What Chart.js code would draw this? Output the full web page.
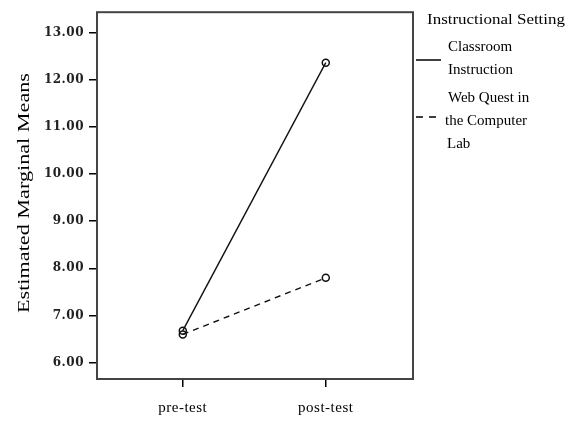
<!DOCTYPE html>
<html>
<head>
<meta charset="utf-8">
<script src="https://cdn.jsdelivr.net/npm/chart.js@4.4.1/dist/chart.umd.min.js"></script>
<style>
html,body{margin:0;padding:0;background:#fff;}
#wrap{position:relative;width:569px;height:421px;}
</style>
</head>
<body>
<div id="wrap"><canvas id="c" width="569" height="421"></canvas></div>
<script>
const categories = ["pre-test", "post-test"];
const classroom = [6.68, 12.36];
const webQuest = [6.60, 7.80];
const seriesLabels = [["Classroom", "Instruction"], ["Web Quest in", "the Computer", "Lab"]];
const legendTitle = "Instructional Setting";
const yTicks = [6, 7, 8, 9, 10, 11, 12, 13];
const yTitle = "Estimated Marginal Means";

const SERIF = "'Liberation Serif', 'Times New Roman', serif";

const framePlugin = {
  id: 'frame',
  beforeDraw(chart) {
    chart.ctx.letterSpacing = '0.5px';
  },
  afterDraw(chart) {
    const ctx = chart.ctx, a = chart.chartArea;
    ctx.save();
    ctx.letterSpacing = '0px';
    ctx.strokeStyle = '#444';
    ctx.lineWidth = 2;
    ctx.strokeRect(a.left, a.top, a.right - a.left, a.bottom - a.top);
    ctx.fillStyle = '#000';
    // y axis title, stretched along its length
    ctx.save();
    ctx.font = "17px " + SERIF;
    ctx.textAlign = 'center';
    ctx.textBaseline = 'middle';
    const w = ctx.measureText(yTitle).width;
    ctx.translate(25, 193);
    ctx.rotate(-Math.PI / 2);
    ctx.scale(240 / w, 1);
    ctx.fillText(yTitle, 0, 0);
    ctx.restore();
    // legend
    ctx.textBaseline = 'middle';
    ctx.textAlign = 'left';
    ctx.font = "15px " + SERIF;
    ctx.save();
    const tw = ctx.measureText(legendTitle).width;
    ctx.translate(427, 20);
    ctx.scale(138 / tw, 1);
    ctx.fillText(legendTitle, 0, 0);
    ctx.restore();
    const starts = [47, 98];
    const lineY = [60, 117];
    const xs = [[448, 448], [448, 445, 447]];
    chart.data.datasets.forEach((ds, i) => {
      const lines = seriesLabels[i];
      lines.forEach((t, j) => ctx.fillText(t, xs[i][j], starts[i] + j * 23));
      ctx.beginPath();
      ctx.strokeStyle = '#000';
      ctx.lineWidth = 1.5;
      ctx.setLineDash(ds.borderDash ? [7, 6] : []);
      ctx.moveTo(416, lineY[i]);
      ctx.lineTo(i === 0 ? 441 : 436, lineY[i]);
      ctx.stroke();
      ctx.setLineDash([]);
    });
    ctx.restore();
  }
};

new Chart(document.getElementById('c'), {
  type: 'line',
  data: {
    datasets: [
      {
        label: seriesLabels[0].join(' '),
        data: classroom.map((v, i) => ({x: i, y: v})),
        borderColor: '#111', borderWidth: 1.4,
        pointRadius: 3.5, pointBorderWidth: 1.5,
        pointBackgroundColor: 'rgba(0,0,0,0)', pointBorderColor: '#111',
        tension: 0
      },
      {
        label: seriesLabels[1].join(' '),
        data: webQuest.map((v, i) => ({x: i, y: v})),
        borderColor: '#111', borderWidth: 1.4, borderDash: [6, 5],
        pointRadius: 3.5, pointBorderWidth: 1.5,
        pointBackgroundColor: 'rgba(0,0,0,0)', pointBorderColor: '#111',
        tension: 0
      }
    ]
  },
  options: {
    responsive: false,
    animation: false,
    layout: {padding: {left: 0, right: 156, top: 12, bottom: 0}},
    plugins: {legend: {display: false}, tooltip: {enabled: false}},
    scales: {
      x: {
        type: 'linear', min: -0.6, max: 1.61,
        afterBuildTicks: s => { s.ticks = categories.map((c, i) => ({value: i})); },
        afterFit: s => { s.height = 42; },
        border: {display: false},
        grid: {drawOnChartArea: false, drawTicks: true, tickLength: 8, color: '#000', lineWidth: 1.5},
        ticks: {
          callback: v => categories[v],
          padding: 12, color: '#000', maxRotation: 0,
          font: {family: SERIF, size: 15}
        }
      },
      y: {
        type: 'linear', min: 5.655, max: 13.43,
        afterBuildTicks: s => { s.ticks = yTicks.map(v => ({value: v})); },
        afterFit: s => { s.width = 97; },
        border: {display: false},
        grid: {drawOnChartArea: false, drawTicks: true, tickLength: 8, color: '#000', lineWidth: 1.5},
        title: {display: false, text: yTitle},
        ticks: {
          callback: v => v.toFixed(2),
          padding: 5, color: '#222',
          font: {family: "'DejaVu Serif', serif", size: 12, weight: 'bold'}
        }
      }
    }
  },
  plugins: [framePlugin]
});
</script>
</body>
</html>
